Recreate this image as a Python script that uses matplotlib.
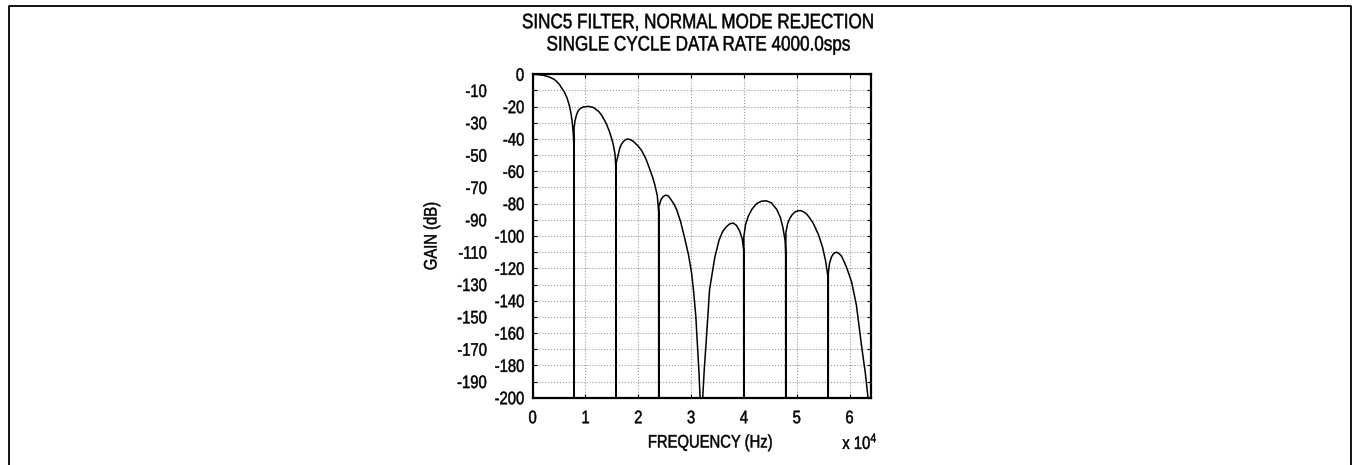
import numpy as np
import matplotlib
matplotlib.use("Agg")
import matplotlib.pyplot as plt
from matplotlib.lines import Line2D
from matplotlib.patheffects import AbstractPathEffect
from matplotlib.transforms import Affine2D

plt.rcParams['font.family'] = ['Liberation Sans', 'DejaVu Sans']
plt.rcParams['mathtext.fontset'] = 'custom'
plt.rcParams['mathtext.rm'] = 'Liberation Sans'

# frequency (Hz) / gain (dB), -300 = null (off scale)
freq = [0, 1000, 2000, 3000, 4000, 4500, 5000, 5500, 6000, 6500, 7000, 7300, 7500, 7700, 7800, 7820,
        7840, 8000, 8300, 8600, 9000, 9500, 10500, 11500, 12500, 13000, 13500, 14000, 14600, 15200, 15600, 15750, 15770,
        15790, 16150, 16500, 16800, 17200, 17600, 18000, 18500, 19000, 20000, 20600, 21400, 22100, 22700, 23100, 23600, 23850, 23870,
        23890, 24100, 24300, 24700, 25200, 25700, 26200, 26800, 27300, 28000, 28800, 29500, 30100, 30500, 30900, 31200, 31500, 31700, 31800,
        32100, 32200, 32500, 32800, 33500, 34500, 35300, 36000, 36700, 37300, 38000, 38600, 39200, 39700, 39950, 39970,
        39990, 40300, 40800, 41500, 42400, 43300, 44200, 45200, 46200, 46900, 47400, 47800, 47900, 47920,
        47940, 48300, 48700, 49100, 49600, 50100, 50700, 51300, 51900, 52500, 53100, 54100, 54900, 55500, 55950, 55970,
        55990, 56200, 56600, 57000, 57500, 58000, 58500, 59400, 60400, 61300, 62300, 63000, 63500, 64000]
gain = [0, -0.2, -0.6, -1.5, -3, -4.3, -6, -8.5, -11, -14.5, -20, -25, -30, -37, -44, -300,
        -33, -29, -25, -22.7, -21.2, -20.3, -19.8, -20.5, -23, -25, -27.8, -31, -36, -42.5, -49.5, -58, -300,
        -55, -50.5, -45.6, -43.3, -41.5, -40.4, -40, -40.4, -41.3, -44.5, -47, -52, -58, -63.5, -68, -75, -85, -300,
        -82, -79.5, -77.5, -75.6, -74.7, -75.3, -77.5, -80.5, -84, -91, -101.5, -111.5, -123, -135, -150, -167, -185, -200, -215,
        -215, -200, -182, -168, -133, -113, -102.5, -97, -94.2, -92.5, -92, -93.5, -97, -102, -108.7, -300,
        -100.4, -93, -88, -83.5, -80, -78.5, -78.2, -79.5, -83.5, -88.5, -95, -103, -110.5, -300,
        -98, -92, -89, -87, -85.3, -84.5, -84.3, -85, -86.5, -89, -92, -99, -107, -116, -126, -300,
        -123, -117, -112.8, -110.8, -110, -110.8, -112.5, -119, -128.5, -142.7, -168.5, -185, -200, -230]

xticks = [0, 10000, 20000, 30000, 40000, 50000, 60000]
xlabels = ['0', '1', '2', '3', '4', '5', '6']
yticks_even = list(range(0, -201, -20))
yticks_odd = list(range(-10, -200, -20))


class Squeeze(AbstractPathEffect):
    # narrows glyphs horizontally (the original uses a condensed font)
    def __init__(self, sx=0.82, anchor='center', lw=0.35):
        super().__init__()
        self.sx = sx
        self.anchor = anchor
        self.lw = lw

    def draw_path(self, renderer, gc, tpath, affine, rgbFace=None):
        ext = tpath.get_extents()
        if self.anchor == 'left':
            c = ext.x0
        elif self.anchor == 'right':
            c = ext.x1
        else:
            c = (ext.x0 + ext.x1) / 2
        t = Affine2D().translate(-c, 0).scale(self.sx, 1).translate(c, 0) + affine
        gc0 = renderer.new_gc()
        gc0.copy_properties(gc)
        gc0.set_linewidth(self.lw)
        gc0.set_foreground(rgbFace)
        renderer.draw_path(gc0, tpath, t, rgbFace)
        gc0.restore()


fig = plt.figure(figsize=(13.53, 4.65), dpi=100)
ax = fig.add_axes([0.3937, 0.1447, 0.2498, 0.6955])

ax.plot(freq, gain, color='black', lw=1.1)
ax.set_xlim(0, 64000)
ax.set_ylim(-200, 0)

ax.set_xticks(xticks, labels=xlabels)
ax.set_yticks(yticks_even, labels=[str(v) for v in yticks_even])
ax.set_yticks(yticks_odd, labels=[str(v) for v in yticks_odd], minor=True)

ax.tick_params(which='both', direction='in', length=3, width=0.8, top=True, right=True, labelsize=13)
ax.tick_params(axis='x', pad=9)
ax.tick_params(axis='y', which='major', pad=6)
ax.tick_params(axis='y', which='minor', pad=33)

for lab in ax.get_xticklabels():
    lab.set_path_effects([Squeeze(anchor='center')])
for lab in ax.get_yticklabels() + ax.get_yticklabels(minor=True):
    lab.set_path_effects([Squeeze(anchor='right')])

ax.grid(True, which='both', color='#999999', ls=':', lw=0.8)
for s in ax.spines.values():
    s.set_linewidth(1.6)

sq = [Squeeze(anchor='center')]
cx = (0.3937 + 0.2498 / 2)
fig.text(cx - 0.002, 1 - 22.7 / 465, 'SINC5 FILTER, NORMAL MODE REJECTION', ha='center', va='center',
         fontsize=15, path_effects=sq)
fig.text(cx - 0.002, 1 - 45 / 465, 'SINGLE CYCLE DATA RATE 4000.0sps', ha='center', va='center',
         fontsize=15, path_effects=sq)
fig.text(710 / 1353, 1 - 443 / 465, 'FREQUENCY (Hz)', ha='center', va='center', fontsize=13, path_effects=sq)
fig.text(860 / 1353, 1 - 443 / 465, r'x $\mathregular{10^4}$', ha='center', va='center', fontsize=13, path_effects=sq)
fig.text(432 / 1353, 1 - 236 / 465, 'GAIN (dB)', ha='center', va='center', rotation=90, fontsize=13, path_effects=sq)

# outer frame (open at the bottom)
fx = [8.5 / 1353, 8.5 / 1353, 1351 / 1353, 1351 / 1353]
fy = [0, 1 - 6.5 / 465, 1 - 6.5 / 465, 0]
fig.add_artist(Line2D(fx, fy, transform=fig.transFigure, color='black', lw=1.3))

fig.savefig('out.png', dpi=100)
